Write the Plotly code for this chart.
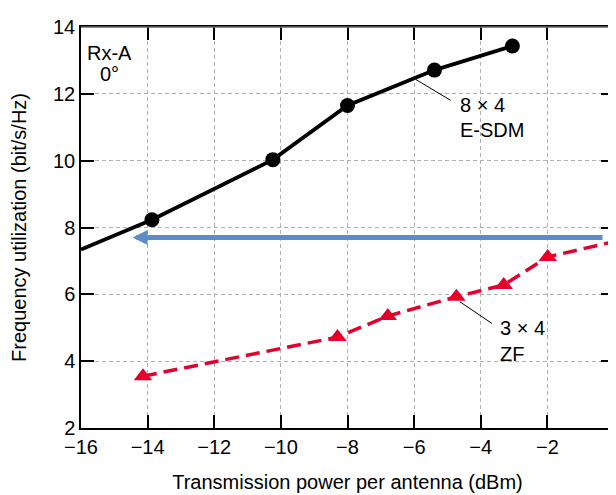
import plotly.graph_objects as go

# E-SDM 8x4 (first point is the line start at the left axis, no marker)
esdm_x = [-16.0, -13.87, -10.24, -8.0, -5.39, -3.05]
esdm_y = [7.34, 8.23, 10.03, 11.65, 12.71, 13.43]
esdm_marker = [0, 15, 15, 15, 15, 15]

# ZF 3x4 (last point is the line end at the right axis, no marker)
zf_x = [-14.14, -8.30, -6.79, -4.73, -3.31, -1.99, 0.0]
zf_y = [3.55, 4.72, 5.35, 5.93, 6.28, 7.12, 7.58]
zf_marker = [16, 16, 16, 16, 16, 16, 0]

# Blue arrow (start, tip) and level
arrow_x = [-0.3, -14.45]
arrow_y = 7.7

x_ticks = [-16, -14, -12, -10, -8, -6, -4, -2, 0]
y_ticks = [2, 4, 6, 8, 10, 12, 14]

FONT = "Liberation Sans, Arial, Helvetica, sans-serif"
RED = "#E4002B"
BLUE = "#5B8DCB"
FS = 20

fig = go.Figure()

fig.add_trace(go.Scatter(
    x=zf_x, y=zf_y, mode="lines+markers",
    line=dict(color=RED, width=3.5, dash="14px,7px"),
    marker=dict(symbol="triangle-up", size=zf_marker, color=RED, opacity=1,
                line=dict(width=0)),
    showlegend=False, cliponaxis=False))

fig.add_trace(go.Scatter(
    x=esdm_x, y=esdm_y, mode="lines+markers",
    line=dict(color="black", width=3.8),
    marker=dict(symbol="circle", size=esdm_marker, color="black", opacity=1,
                line=dict(width=0)),
    showlegend=False, cliponaxis=False))

annotations = [
    # blue arrow
    dict(x=arrow_x[1], y=arrow_y, ax=arrow_x[0], ay=arrow_y, xref="x", yref="y",
         axref="x", ayref="y", showarrow=True, arrowhead=2, arrowsize=0.6,
         arrowwidth=5, arrowcolor=BLUE, text=""),
    # leader lines
    dict(x=-5.95, y=12.43, ax=-4.86, ay=11.78, xref="x", yref="y",
         axref="x", ayref="y", showarrow=True, arrowhead=0, arrowwidth=1,
         arrowcolor="black", text=""),
    dict(x=-4.63, y=5.78, ax=-3.62, ay=5.10, xref="x", yref="y",
         axref="x", ayref="y", showarrow=True, arrowhead=0, arrowwidth=1,
         arrowcolor="black", text=""),
    # labels
    dict(x=-15.15, y=13.23, text="Rx-A", showarrow=False, xref="x", yref="y",
         font=dict(size=FS, color="black", family=FONT)),
    dict(x=-15.15, y=12.6, text="0°", showarrow=False, xref="x", yref="y",
         font=dict(size=FS, color="black", family=FONT)),
    dict(x=-4.69, y=11.67, text="8 × 4", showarrow=False, xref="x", yref="y",
         xanchor="left", font=dict(size=FS, color="black", family=FONT)),
    dict(x=-4.69, y=10.92, text="E-SDM", showarrow=False, xref="x", yref="y",
         xanchor="left", font=dict(size=FS, color="black", family=FONT)),
    dict(x=-3.48, y=5.0, text="3 × 4", showarrow=False, xref="x", yref="y",
         xanchor="left", font=dict(size=FS, color="black", family=FONT)),
    dict(x=-3.48, y=4.22, text="ZF", showarrow=False, xref="x", yref="y",
         xanchor="left", font=dict(size=FS, color="black", family=FONT)),
]

axis_common = dict(
    showline=True, linecolor="black", linewidth=1.5, mirror="ticks",
    ticks="inside", ticklen=13, tickwidth=1.5, tickcolor="black",
    showgrid=True, gridcolor="#B0B0B0", griddash="4px,3px", gridwidth=1,
    zeroline=False,
    tickfont=dict(size=FS, color="black", family=FONT),
)

fig.update_layout(
    width=616, height=495,
    margin=dict(l=73, r=4, t=19, b=75),
    paper_bgcolor="white", plot_bgcolor="white",
    font=dict(family=FONT, color="black"),
    xaxis=dict(range=[-16, 0], tickvals=x_ticks,
               title=dict(text="Transmission power per antenna (dBm)",
                          font=dict(size=FS, family=FONT), standoff=18),
               **axis_common),
    yaxis=dict(range=[2, 14], tickvals=y_ticks,
               title=dict(text="Frequency utilization (bit/s/Hz)",
                          font=dict(size=FS, family=FONT), standoff=22),
               **axis_common),
    annotations=annotations,
    shapes=[
        dict(type="line", xref="paper", yref="paper", x0=0, x1=1, y0=1, y1=1,
             line=dict(color="#666666", width=1.5)),
        dict(type="line", xref="paper", yref="paper", x0=1, x1=1, y0=0, y1=1,
             line=dict(color="#666666", width=1.5)),
    ],
)

fig.write_html("out.html")
